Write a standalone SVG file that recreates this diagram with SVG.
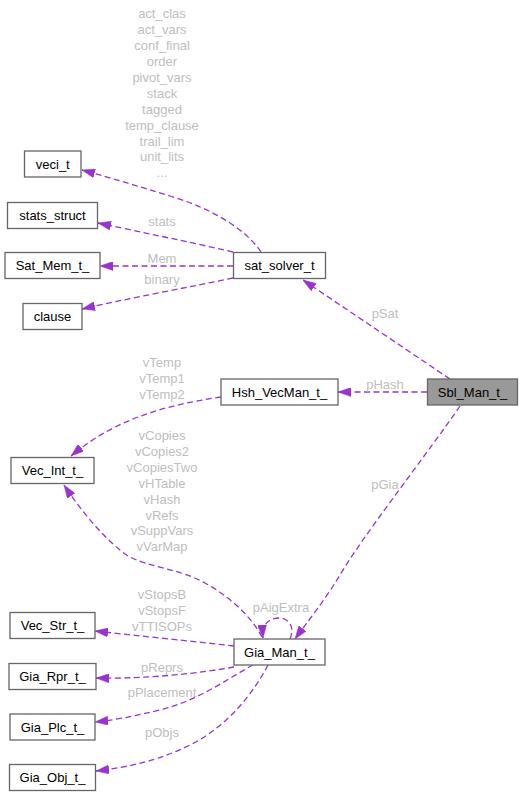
<svg xmlns="http://www.w3.org/2000/svg" width="526" height="796" viewBox="0 0 526 796">
<style>
.n rect{fill:#ffffff;stroke:#666666;stroke-width:1.3}
.n text{font-family:"Liberation Sans",Arial,sans-serif;font-size:13px;fill:#000000;text-anchor:middle}
#Sbl_Man_t_ rect{fill:#999999}
.e path{fill:none;stroke:#9a32cd;stroke-width:1.3;stroke-dasharray:6,3.5}
.l{font-family:"Liberation Sans",Arial,sans-serif;font-size:13px;fill:#bebebe;text-anchor:middle}
</style>
<defs>
<marker id="ah" viewBox="0 0 13 9" refX="13" refY="4.5" markerWidth="13" markerHeight="9" markerUnits="userSpaceOnUse" orient="auto">
<path d="M0,0 L13,4.5 L0,9 z" fill="#9a32cd" stroke="#9a32cd" stroke-width="0.5"/>
</marker>
</defs>
<rect width="526" height="796" fill="#ffffff"/>
<g id="connectors" class="e">
<path marker-end="url(#ah)" d="M261,252 C245,228 210,208 170,196 C140,187 115,179 82,170"/>
<path marker-end="url(#ah)" d="M233,252 C190,242 140,232 98,223"/>
<path marker-end="url(#ah)" d="M233,266 L100,266"/>
<path marker-end="url(#ah)" d="M233,278 C190,287 130,298 82,309"/>
<path marker-end="url(#ah)" d="M450,379 L303,280"/>
<path marker-end="url(#ah)" d="M427,392 L338,392"/>
<path marker-end="url(#ah)" d="M221,397 C175,404 120,415 71,456"/>
<path marker-end="url(#ah)" d="M262,637 C252,618 232,598 205,583 C178,568 150,568 128,556 C105,540 82,512 64,485"/>
<path marker-end="url(#ah)" d="M460,406 C430,450 360,540 340,575 C325,600 305,625 295,639"/>
<path marker-end="url(#ah)" d="M290,639 C295,627 289,618 279,618 C269,618 262,624 263,638"/>
<path marker-end="url(#ah)" d="M234,646 C190,641 140,636 95,631"/>
<path marker-end="url(#ah)" d="M234,667 C200,673 150,679 96,678"/>
<path marker-end="url(#ah)" d="M253,665 C230,677 200,700 160,710 C135,716 115,720 95,722"/>
<path marker-end="url(#ah)" d="M268,665 C255,690 230,725 190,745 C160,760 130,767 96,771"/>
</g>
<g id="labels">
<text class="l" x="162" y="18.3">act_clas</text>
<text class="l" x="162" y="34.2">act_vars</text>
<text class="l" x="162" y="50.1">conf_final</text>
<text class="l" x="162" y="66">order</text>
<text class="l" x="162" y="81.9">pivot_vars</text>
<text class="l" x="162" y="97.8">stack</text>
<text class="l" x="162" y="113.7">tagged</text>
<text class="l" x="162" y="129.6">temp_clause</text>
<text class="l" x="162" y="145.5">trail_lim</text>
<text class="l" x="162" y="161.4">unit_lits</text>
<text class="l" x="162" y="177.3">...</text>
<text class="l" x="162" y="226">stats</text>
<text class="l" x="162" y="263">Mem</text>
<text class="l" x="162" y="283.5">binary</text>
<text class="l" x="385" y="318">pSat</text>
<text class="l" x="385" y="389">pHash</text>
<text class="l" x="162" y="366.7">vTemp</text>
<text class="l" x="162" y="382.6">vTemp1</text>
<text class="l" x="162" y="398.5">vTemp2</text>
<text class="l" x="385" y="488.5">pGia</text>
<text class="l" x="162" y="440">vCopies</text>
<text class="l" x="162" y="455.9">vCopies2</text>
<text class="l" x="162" y="471.8">vCopiesTwo</text>
<text class="l" x="162" y="487.7">vHTable</text>
<text class="l" x="162" y="503.6">vHash</text>
<text class="l" x="162" y="519.5">vRefs</text>
<text class="l" x="162" y="535.4">vSuppVars</text>
<text class="l" x="162" y="551.3">vVarMap</text>
<text class="l" x="162" y="599">vStopsB</text>
<text class="l" x="162" y="615">vStopsF</text>
<text class="l" x="162" y="631">vTTISOPs</text>
<text class="l" x="281" y="612">pAigExtra</text>
<text class="l" x="162" y="672">pReprs</text>
<text class="l" x="162" y="697">pPlacement</text>
<text class="l" x="162" y="737">pObjs</text>
</g>
<g id="veci_t" class="n"><rect x="24.5" y="151" width="56.5" height="26"/><text x="52.75" y="168.5">veci_t</text></g>
<g id="stats_struct" class="n"><rect x="7.5" y="202.5" width="90" height="26"/><text x="52.5" y="220">stats_struct</text></g>
<g id="Sat_Mem_t_" class="n"><rect x="5" y="252.5" width="95" height="26"/><text x="52.5" y="270">Sat_Mem_t_</text></g>
<g id="clause" class="n"><rect x="23" y="303.5" width="59" height="26"/><text x="52.5" y="321">clause</text></g>
<g id="sat_solver_t" class="n"><rect x="233.5" y="252.5" width="92" height="26"/><text x="279.5" y="270">sat_solver_t</text></g>
<g id="Hsh_VecMan_t_" class="n"><rect x="221" y="379" width="117" height="26"/><text x="279.5" y="396.5">Hsh_VecMan_t_</text></g>
<g id="Sbl_Man_t_" class="n"><rect x="427.5" y="379" width="90" height="26"/><text x="472.5" y="396.5">Sbl_Man_t_</text></g>
<g id="Vec_Int_t_" class="n"><rect x="11" y="457.5" width="83" height="26"/><text x="52.5" y="475">Vec_Int_t_</text></g>
<g id="Vec_Str_t_" class="n"><rect x="10" y="612.5" width="85" height="26"/><text x="52.5" y="630">Vec_Str_t_</text></g>
<g id="Gia_Man_t_" class="n"><rect x="234" y="639" width="91" height="26"/><text x="279.5" y="656.5">Gia_Man_t_</text></g>
<g id="Gia_Rpr_t_" class="n"><rect x="9" y="663.5" width="87" height="26"/><text x="52.5" y="681">Gia_Rpr_t_</text></g>
<g id="Gia_Plc_t_" class="n"><rect x="10" y="714" width="85" height="26"/><text x="52.5" y="731.5">Gia_Plc_t_</text></g>
<g id="Gia_Obj_t_" class="n"><rect x="9.5" y="764.5" width="86" height="26"/><text x="52.5" y="782">Gia_Obj_t_</text></g>
</svg>
